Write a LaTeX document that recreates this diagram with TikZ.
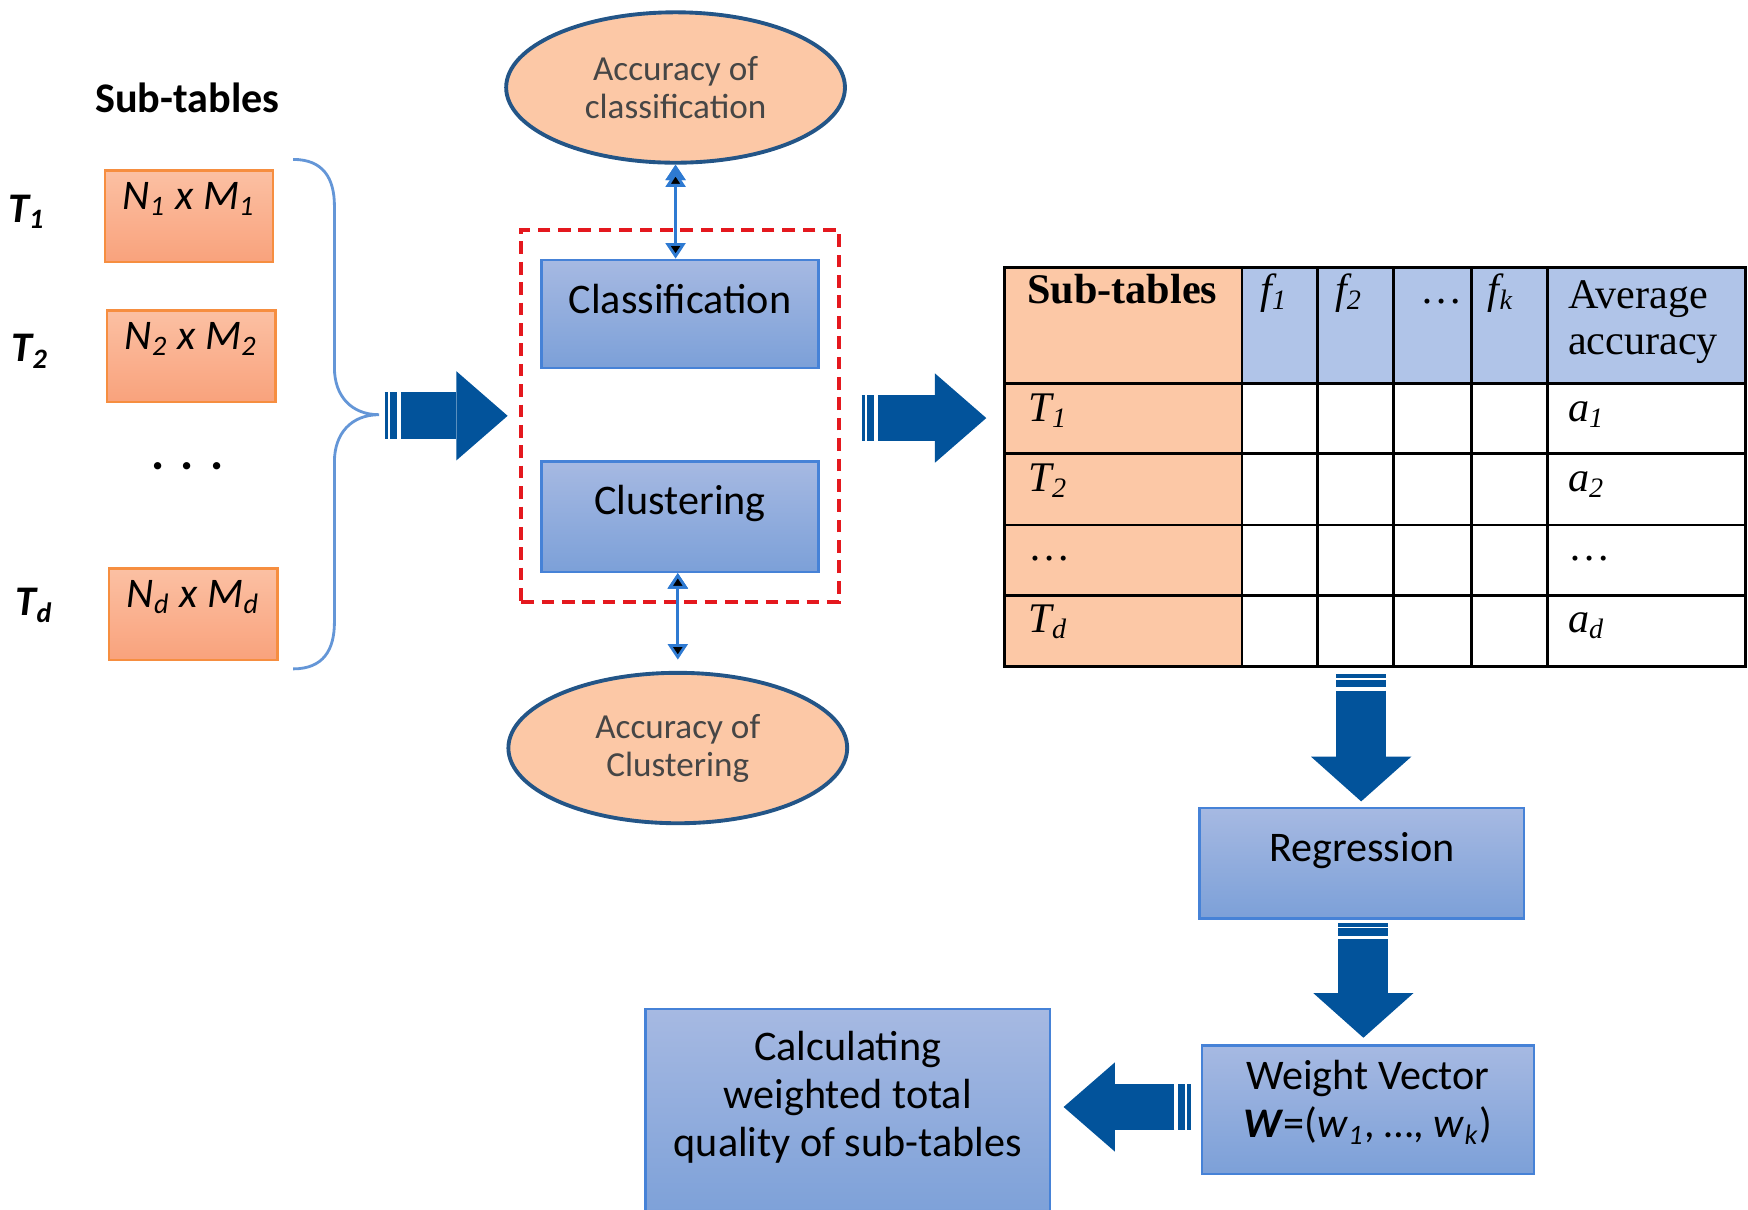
\documentclass[tikz,border=0pt]{standalone}
\usepackage{fontspec}
\setmainfont{Carlito}
\newfontfamily\tabfont{Liberation Serif}
\usetikzlibrary{arrows.meta,calc,fit,shapes.geometric}

\definecolor{orfill}{RGB}{252,200,166}
\definecolor{ortop}{RGB}{251,192,163}
\definecolor{orbot}{RGB}{249,162,124}
\definecolor{ordraw}{RGB}{246,142,64}
\definecolor{bltop}{RGB}{166,185,226}
\definecolor{blbot}{RGB}{124,160,216}
\definecolor{bldraw}{RGB}{70,130,215}
\definecolor{hdblue}{RGB}{176,196,232}
\definecolor{arrblue}{RGB}{2,83,155}
\definecolor{lnblue}{RGB}{46,122,210}
\definecolor{brblue}{RGB}{100,150,215}
\definecolor{ellline}{RGB}{35,85,135}
\definecolor{dashred}{RGB}{228,24,30}
\definecolor{txtgray}{RGB}{70,70,70}

\newcommand{\stripearrow}[4][h]{%
  \draw[stripes,shaft#1] (#2) -- ($(#2)!3.6pt!(#3)$);
  \draw[bigarrow,shaft#1,tip#1,shorten >=#4] ($(#2)!4.6pt!(#3)$) -- (#3);
}

\begin{document}
\begin{tikzpicture}[x=0.11148mm,y=-0.11148mm,
  every node/.style={inner sep=0pt},
  title/.style={font=\fontsize{12}{14}\selectfont\bfseries},
  lbl/.style={font=\fontsize{12}{14}\selectfont\bfseries\itshape},
  subbox/.style={draw=ordraw,line width=0.7pt,top color=ortop,bottom color=orbot,minimum width=47.9pt,text height=11.1pt,text depth=14.9pt,font=\fontsize{12}{14}\selectfont\itshape},
  task/.style={draw=bldraw,line width=0.7pt,top color=bltop,bottom color=blbot,align=center,font=\fontsize{12}{13.6}\selectfont},
  acc/.style={ellipse,draw=ellline,line width=1.1pt,fill=orfill,minimum width=96.4pt,minimum height=42.8pt,align=center,text=txtgray,font=\fontsize{10}{10.8}\selectfont},
  dashbox/.style={draw=dashred,line width=1.3pt,dash pattern=on 3.6pt off 2.2pt,inner xsep=5.5pt,inner ysep=8.2pt},
  dblarrow/.style={draw=lnblue,line width=0.8pt,{Triangle[length=4.4pt,width=5.6pt]}-{Triangle[length=4.4pt,width=5.6pt]}},
  brace/.style={draw=brblue,line width=0.8pt},
  stripes/.style={draw=arrblue,dash pattern=on 1.05pt off 0.48pt on 2.07pt off 5pt},
  bigarrow/.style={draw=arrblue},
  shafth/.style={line width=13.3pt},
  shaftv/.style={line width=14.2pt},
  tiph/.style={-{Triangle[length=14.6pt,width=25.4pt,line width=0pt]}},
  tipv/.style={-{Triangle[length=12.7pt,width=28.5pt,line width=0pt]}},
  tabline/.style={draw=black,line width=0.75pt},
  tab/.style={font=\tabfont\fontsize{12}{13}\selectfont,anchor=base west}]
\useasboundingbox (0,0) rectangle (1568,1085);

\node[title] (ttl) at (168,88) {Sub-tables};
\node[lbl] (L1) at (24,190) {T\textsubscript{1}};
\node[lbl] (L2) at (27,315) {T\textsubscript{2}};
\node[lbl] (Ld) at (31,543) {T\textsubscript{d}};

\node[subbox] (S1) at (169.5,194) {N\textsubscript{1} x M\textsubscript{1}};
\node[subbox] (S2) at (171.5,319.5) {N\textsubscript{2} x M\textsubscript{2}};
\node[font=\fontsize{14}{14}\selectfont\bfseries] (dots) at (168,418) {.\,\,.\,\,.};
\node[subbox] (Sd) at (173.5,551) {N\textsubscript{d} x M\textsubscript{d}};

\coordinate (brTip) at (340,372);
\draw[brace] (263,143) .. controls (290,143) and (300,160) .. (300,185) -- (300,330)
  .. controls (300,355) and (315,372) .. (brTip)
  .. controls (315,372) and (300,389) .. (300,414) -- (300,558)
  .. controls (300,583) and (290,600) .. (263,600);

\node[acc] (accCls) at (606,78.5) {Accuracy of\\classification};
\node[task,minimum width=78.7pt,text height=15.2pt,text depth=15.5pt] (cls) at (610,281.5) {Classification};
\node[task,minimum width=78.7pt,text height=15.2pt,text depth=16.2pt] (clu) at (610,463.5) {Clustering};
\node[dashbox,fit=(cls)(clu)] (proc) {};
\node[acc] (accClu) at (608,671) {Accuracy of\\Clustering};

\path[dblarrow] (accCls.south) edge[shorten <=1.9pt] (accCls.south |- cls.north);
\path[dblarrow] (clu.south -| accClu.north) edge[shorten >=3.2pt] (accClu.north);

\fill[orfill] (901,240) rectangle (1114,598);
\fill[hdblue] (1114,240) rectangle (1566,344);
\node[tabline,minimum width=210.9pt,minimum height=113.6pt] (tbl) at (1233.5,419) {};
\foreach \x in {1114,1182,1250,1320,1388}
  \draw[tabline] (\x,240) -- (\x,598);
\foreach \y in {344,407,471,534}
  \draw[tabline] (901,\y) -- (1566,\y);

\node[tab] (hSub) at (921,272) {\bfseries Sub-tables};
\node[tab] (hF1) at (1130,272) {\textit{f\textsubscript{1}}};
\node[tab] (hF2) at (1197,272) {\textit{f\textsubscript{2}}};
\node[tab] (hDt) at (1274,272) {…};
\node[tab] (hFk) at (1334,272) {\textit{f\textsubscript{k}}};
\node[tab,anchor=north west,align=left] (hAvg) at (1406,251) {Average\\accuracy};

\node[tab] (rT1) at (922,378) {\textit{T\textsubscript{1}}};
\node[tab] (rT2) at (922,441) {\textit{T\textsubscript{2}}};
\node[tab] (rTx) at (922,503) {…};
\node[tab] (rTd) at (922,567) {\textit{T\textsubscript{d}}};
\node[tab] (rA1) at (1406,378) {\textit{a\textsubscript{1}}};
\node[tab] (rA2) at (1406,441) {\textit{a\textsubscript{2}}};
\node[tab] (rAx) at (1406,503) {…};
\node[tab] (rAd) at (1406,567) {\textit{a\textsubscript{d}}};

\node[task,minimum width=92.3pt,text height=15.2pt,text depth=16.2pt] (reg) at (1221.5,774.5) {Regression};
\node[task,minimum width=94.5pt,minimum height=36.5pt,text depth=6pt] (wgt) at (1227,995.5) {Weight Vector\\\textbf{\textit{W}}=(\textit{w}\textsubscript{\textit{1}}, …, \textit{w}\textsubscript{\textit{k}})};
\node[task,minimum width=115.1pt,minimum height=60.3pt,text depth=12pt] (calc) at (760.5,1000) {Calculating\\weighted total\\quality of sub-tables};

\coordinate (t1) at (345,373);
\stripearrow{t1}{t1 -| proc.west}{3.2pt}
\coordinate (t2) at (773,375);
\stripearrow{t2}{t2 -| tbl.west}{4.8pt}
\coordinate (t3) at (1221,605);
\stripearrow[v]{t3}{t3 |- reg.north}{1.6pt}
\coordinate (t4) at (1223,828);
\stripearrow[v]{t4}{t4 |- wgt.north}{1.9pt}
\coordinate (t5) at (1068,993);
\stripearrow{t5}{t5 -| calc.east}{3.5pt}
\end{tikzpicture}
\end{document}
